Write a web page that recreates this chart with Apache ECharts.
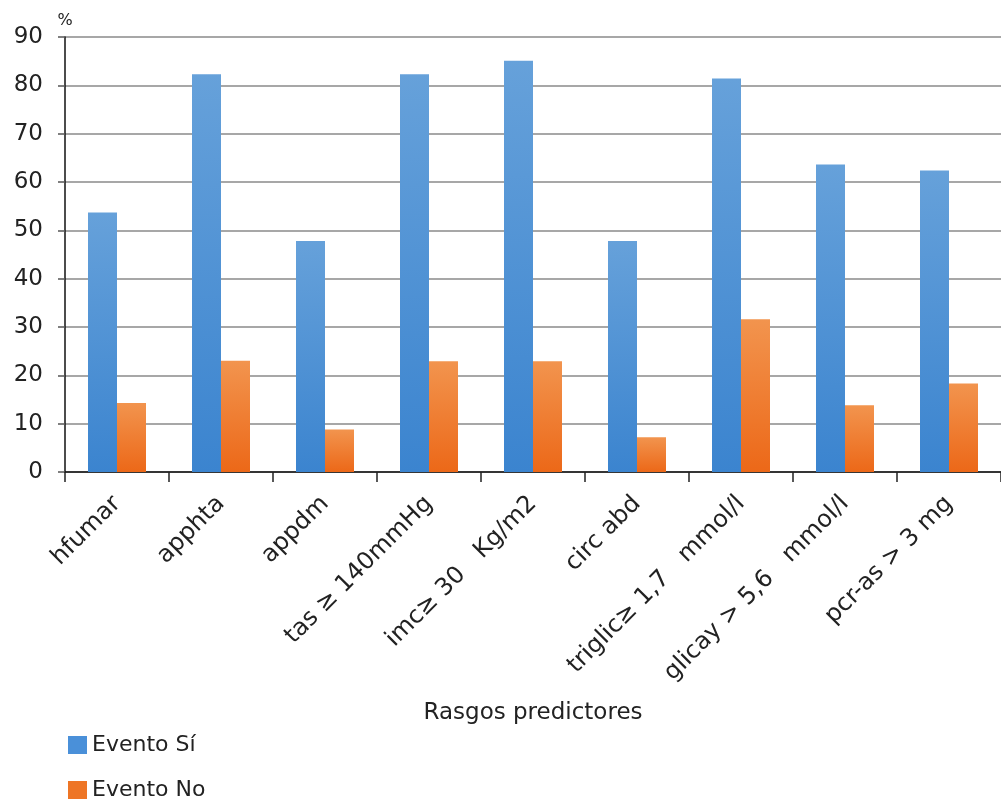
<!DOCTYPE html>
<html>
<head>
<meta charset="utf-8">
<script src="https://cdn.jsdelivr.net/npm/echarts@6/dist/echarts.min.js"></script>
<style>
  html, body { margin: 0; padding: 0; background: #fff; }
  #chart { width: 1001px; height: 805px; }
</style>
</head>
<body>
<div id="chart"></div>
<script>
// Predictive traits: percentage of patients with / without the event
const categories = [
  'hfumar',
  'apphta',
  'appdm',
  'tas \u2265 140mmHg',
  'imc\u2265 30   Kg/m2',
  'circ abd',
  'triglic\u2265 1,7   mmol/l',
  'glicay > 5,6   mmol/l',
  'pcr-as > 3 mg'
];
const eventoSi = [53.7, 82.3, 47.8, 82.3, 85.1, 47.8, 81.4, 63.6, 62.4];
const eventoNo = [14.3, 23.0, 8.8, 22.9, 22.9, 7.2, 31.6, 13.8, 18.3];
const seriesNames = ['Evento S\u00ed', 'Evento No'];
const yTicks = { min: 0, max: 90, interval: 10 };

const FONT = '"DejaVu Sans", Verdana, sans-serif';
const TEXT = '#222';

function grad(top, bottom) {
  return new echarts.graphic.LinearGradient(0, 0, 0, 1, [
    { offset: 0, color: top },
    { offset: 1, color: bottom }
  ]);
}

// one legend block per series, stacked down the lower-left corner
function legendAt(name, color, top) {
  return {
    orient: 'vertical',
    left: 68,
    top: top,
    padding: 0,
    itemWidth: 19,
    itemHeight: 18,
    icon: 'rect',
    textStyle: { fontFamily: FONT, fontSize: 22, color: TEXT },
    data: [{ name: name, itemStyle: { color: color } }]
  };
}

const chart = echarts.init(document.getElementById('chart'), null, { renderer: 'canvas' });

chart.setOption({
  animation: false,
  backgroundColor: '#ffffff',
  textStyle: { fontFamily: FONT },
  grid: { left: 65, right: 0, top: 37, bottom: 333, containLabel: false },
  legend: [
    legendAt(seriesNames[0], '#4a90d9', 734),
    legendAt(seriesNames[1], '#ee7525', 779)
  ],
  xAxis: {
    type: 'category',
    data: categories,
    name: 'Rasgos predictores',
    nameLocation: 'middle',
    nameGap: 230,
    nameTextStyle: { fontFamily: FONT, fontSize: 23, color: TEXT },
    axisLine: { lineStyle: { color: '#111', width: 1.5 } },
    axisTick: { show: true, interval: 0, length: 10, lineStyle: { color: '#222', width: 1.5 } },
    axisLabel: {
      interval: 0,
      rotate: 45,
      margin: 28,
      fontFamily: FONT,
      fontSize: 24,
      color: TEXT
    },
    splitLine: { show: false }
  },
  yAxis: {
    type: 'value',
    min: yTicks.min,
    max: yTicks.max,
    interval: yTicks.interval,
    name: '%',
    nameLocation: 'end',
    nameGap: 8,
    nameTextStyle: { fontFamily: FONT, fontSize: 16, color: TEXT, align: 'center' },
    axisLine: { show: true, lineStyle: { color: '#111', width: 1.5 } },
    axisTick: { show: true, length: 7, lineStyle: { color: '#555', width: 1.5 } },
    axisLabel: { fontFamily: FONT, fontSize: 23, color: TEXT, margin: 22 },
    splitLine: { show: true, lineStyle: { color: '#8a8a8a', width: 1.5 } }
  },
  series: [
    {
      name: seriesNames[0],
      type: 'bar',
      data: eventoSi,
      barWidth: 29,
      barGap: '0%',
      itemStyle: { color: grad('#66a1da', '#3b84cf') }
    },
    {
      name: seriesNames[1],
      type: 'bar',
      data: eventoNo,
      barWidth: 29,
      barGap: '0%',
      itemStyle: { color: grad('#f2944e', '#ec6818') }
    }
  ]
});
</script>
</body>
</html>
